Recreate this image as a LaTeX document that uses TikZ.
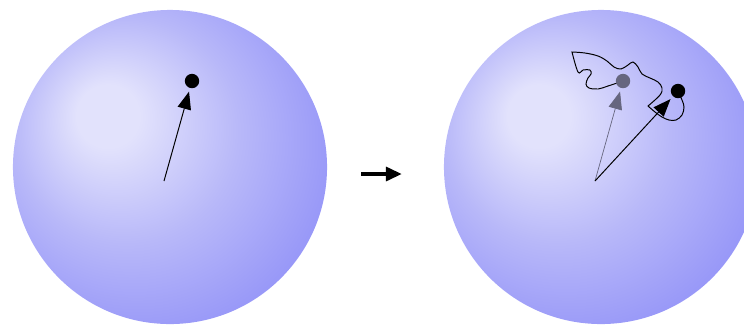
\documentclass[tikz,border=0pt]{standalone}
\usepackage{tikz}
\usepackage{xcolor}
\usetikzlibrary{arrows.meta,positioning}
\definecolor{spherehi}{HTML}{E2E2FC}
\definecolor{spheremid}{HTML}{B8B8F9}
\definecolor{spherelo}{HTML}{9494F8}
\definecolor{ghost}{HTML}{66667F}
\pgfdeclareradialshading{spherefill}{\pgfpoint{-11bp}{9bp}}{%
  color(0bp)=(spherehi); color(5bp)=(spherehi); color(18bp)=(spheremid);
  color(32bp)=(spherelo); color(50bp)=(spherelo)}
\tikzset{
  sphere/.style={circle,inner sep=0pt,minimum size=7.85cm,
                 shade,shading=spherefill},
  spin/.style={circle,fill=black,inner sep=0pt,minimum size=0.36cm},
  ghostspin/.style={spin,fill=ghost},
  vecarr/.style={-{Triangle[length=4.4mm,width=3.4mm]},line width=0.7pt,
                 shorten >=2.5pt},
  ghostarr/.style={vecarr,color=ghost,line width=0.5pt},
  steparr/.style={-{Triangle[length=4mm,width=3.4mm]},line width=3.4pt},
  trail/.style={line width=0.7pt}
}

\begin{document}
\begin{tikzpicture}[x=0.025cm,y=-0.025cm]
  \useasboundingbox (0,0) rectangle (744,324);
  \clip (0,0) rectangle (744,324);

  % left: the spin before
  \node[sphere] (lsph) at (170,167) {};
  \coordinate (lo) at (164,181);
  \node[spin] (lspin) at (192,81) {};
  \draw[vecarr] (lo) -- (lspin);

  % step
  \coordinate (sa) at (361,174);
  \coordinate (sb) at (402,174);
  \draw[steparr] (sa) -- (sb);

  % right: old position in gray, new one in black
  \node[sphere] (rsph) at (601,167) {};
  \coordinate (ro) at (595,181);
  \draw[trail] plot[smooth,tension=0.6] coordinates {(623,81) (608,86) (598,89)
      (589,88) (586,84) (588,78) (591,74) (590,70) (583,70) (578,72) (572,52)}
    -- plot[smooth,tension=0.6] coordinates {(572,52) (585,53) (598,56) (607,61)
      (614,67) (621,69) (628,65) (633,62) (638,67) (642,74) (650,78) (658,82)
      (662,88) (660,95) (648,106)}
    -- plot[smooth,tension=0.6] coordinates {(648,106) (655,112) (662,117)
      (669,120) (676,120) (682,115) (684,107) (682,100) (678,91)};
  \node[ghostspin] (gspin) at (623,81) {};
  \node[spin] (rspin) at (678,91) {};
  \draw[ghostarr] (ro) -- (gspin);
  \draw[vecarr] (ro) -- (rspin);
\end{tikzpicture}
\end{document}
